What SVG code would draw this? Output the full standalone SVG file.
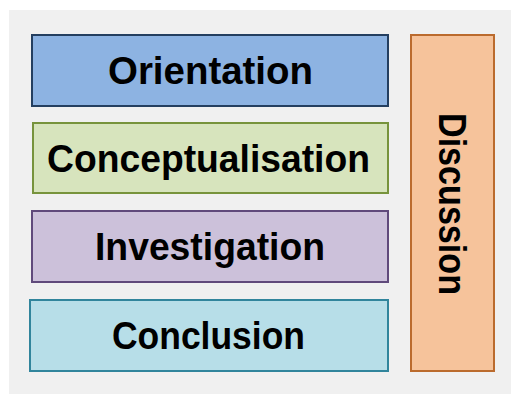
<svg xmlns="http://www.w3.org/2000/svg" width="511" height="394" viewBox="0 0 511 394">
<style>
.lbl{font-family:"Liberation Sans",Arial,sans-serif;font-weight:bold;font-size:38px;fill:#000;text-anchor:middle}
.box{stroke-width:2}
</style>
<rect width="511" height="394" fill="#ffffff"/>
<rect x="9" y="10" width="502" height="384" fill="#f0f0f0"/>
<g id="orientation">
<rect class="box" x="32" y="35" width="356" height="71" fill="#8db3e2" stroke="#243f60"/>
<text class="lbl" x="210.5" y="83.5" textLength="205" lengthAdjust="spacingAndGlyphs">Orientation</text>
</g>
<g id="conceptualisation">
<rect class="box" x="33" y="123" width="355" height="70" fill="#d7e4bd" stroke="#77933c"/>
<text class="lbl" x="208.5" y="171.5" textLength="323" lengthAdjust="spacingAndGlyphs">Conceptualisation</text>
</g>
<g id="investigation">
<rect class="box" x="32" y="211" width="356" height="71" fill="#ccc1da" stroke="#604a7b"/>
<text class="lbl" x="210" y="260" textLength="230" lengthAdjust="spacingAndGlyphs">Investigation</text>
</g>
<g id="conclusion">
<rect class="box" x="30" y="300" width="358" height="71" fill="#b7dee8" stroke="#31859c"/>
<text class="lbl" x="208.5" y="349" textLength="193" lengthAdjust="spacingAndGlyphs">Conclusion</text>
</g>
<g id="discussion">
<rect class="box" x="411" y="35" width="83" height="336" fill="#f6c39b" stroke="#bb6b2e"/>
<text class="lbl" transform="translate(439 204) rotate(90)" x="0" y="0" textLength="182" lengthAdjust="spacingAndGlyphs">Discussion</text>
</g>
<g id="connectors"/>
</svg>
